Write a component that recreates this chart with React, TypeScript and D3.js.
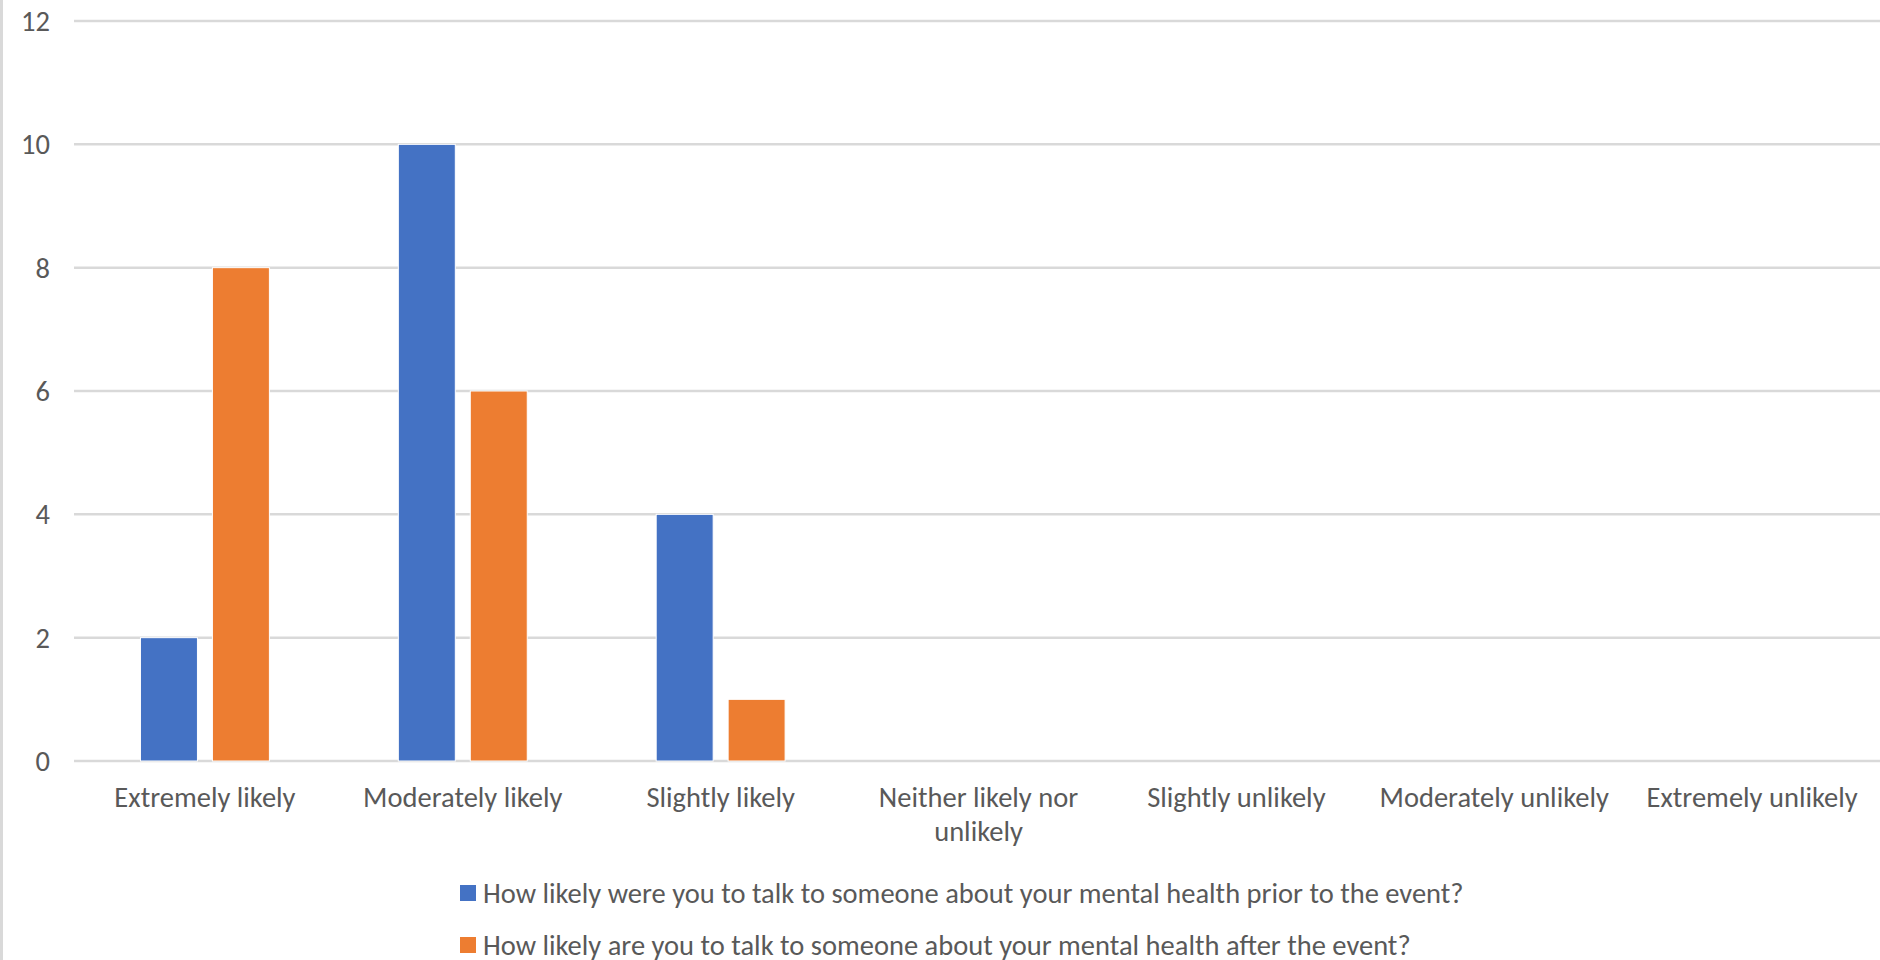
import React, { useEffect } from "react";
import * as d3 from "d3";

const categories: string[][] = [
  ["Extremely likely"],
  ["Moderately likely"],
  ["Slightly likely"],
  ["Neither likely nor", "unlikely"],
  ["Slightly unlikely"],
  ["Moderately unlikely"],
  ["Extremely unlikely"],
];
const seriesNames = [
  "How likely were you to talk to someone about your mental health prior to the event?",
  "How likely are you to talk to someone about your mental health after the event?",
];
const priorValues = [2, 10, 4, 0, 0, 0, 0];
const afterValues = [8, 6, 1, 0, 0, 0, 0];
const yTicks = [0, 2, 4, 6, 8, 10, 12];
const colors = ["#4472C4", "#ED7D31"];

const W = 1880;
const H = 960;
const FONT = "Carlito, Lato, 'Open Sans', sans-serif";
const TEXT = "#595959";
const FS = 28.5;

export default function App() {
  useEffect(() => {
    document.body.style.margin = "0";
  }, []);
  const keys = categories.map((c) => c.join(" "));
  const x0 = d3.scaleBand<string>().domain(keys).range([76, 1881]).padding(0);
  const x1 = d3
    .scaleBand<number>()
    .domain([0, 1])
    .range([0, x0.bandwidth()])
    .paddingInner(0.208)
    .paddingOuter(0.896);
  const y = d3.scaleLinear().domain([0, 12]).range([761, 21]);
  const series = [priorValues, afterValues];

  return (
    <svg width={W} height={H} style={{ display: "block", background: "#fff" }} fontFamily={FONT}>
      <rect x={0} y={0} width={W} height={H} fill="#fff" />
      <line x1={1.5} x2={1.5} y1={0} y2={H} stroke="#d9d9d9" strokeWidth={3} />
      {yTicks.map((t) => (
        <g key={t}>
          <line x1={74} x2={W} y1={y(t)} y2={y(t)} stroke="#d9d9d9" strokeWidth={2.5} />
          <text x={50} y={y(t)} dy="0.35em" textAnchor="end" fontSize={FS} fill={TEXT}>
            {t}
          </text>
        </g>
      ))}
      {series.map((vals, si) =>
        vals.map((v, i) =>
          v > 0 ? (
            <rect
              key={`${si}-${i}`}
              x={(x0(keys[i]) as number) + (x1(si) as number)}
              y={y(v)}
              width={x1.bandwidth()}
              height={y(0) - y(v)}
              fill={colors[si]}
              stroke="#fff"
              strokeWidth={1}
            />
          ) : null
        )
      )}
      {categories.map((lines, i) => (
        <text
          key={i}
          x={(x0(keys[i]) as number) + x0.bandwidth() / 2}
          y={797}
          textAnchor="middle"
          fontSize={FS}
          fill={TEXT}
        >
          {lines.map((l, j) => (
            <tspan key={j} x={(x0(keys[i]) as number) + x0.bandwidth() / 2} dy={j === 0 ? "0.35em" : 34}>
              {l}
            </tspan>
          ))}
        </text>
      ))}
      {seriesNames.map((name, i) => (
        <g key={name} transform={`translate(460, ${893 + i * 52})`}>
          <rect x={0} y={-8} width={16} height={16} fill={colors[i]} />
          <text x={23} y={0} dy="0.35em" fontSize={FS} fill={TEXT}>
            {name}
          </text>
        </g>
      ))}
    </svg>
  );
}
